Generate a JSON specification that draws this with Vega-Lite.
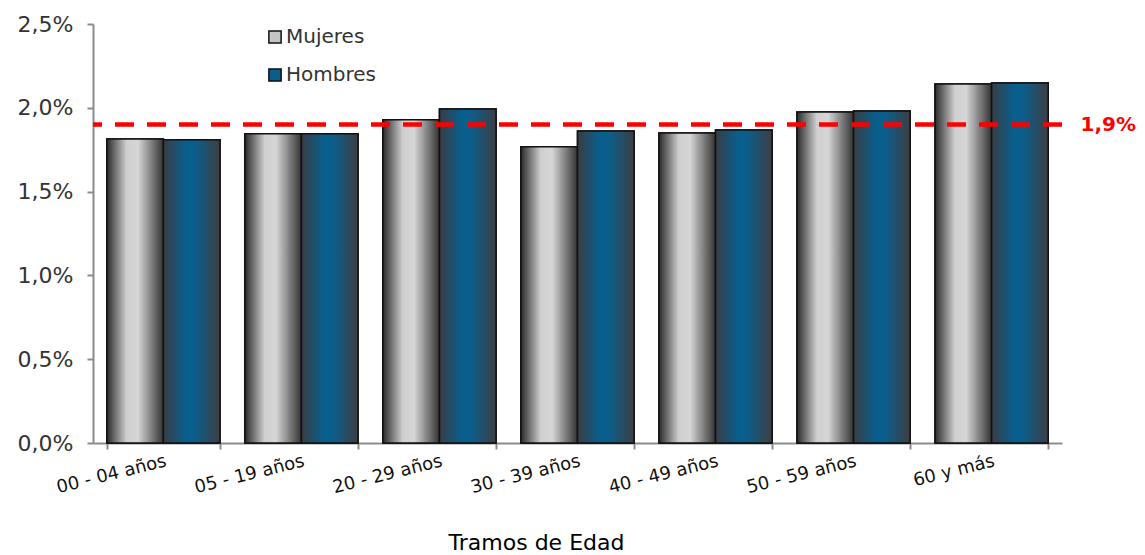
{
  "$schema": "https://vega.github.io/schema/vega-lite/v6.json",
  "autosize": "none",
  "width": 969,
  "height": 419,
  "padding": {"left": 93, "top": 24, "right": 83, "bottom": 112},
  "background": "white",
  "config": {
    "font": "DejaVu Sans",
    "view": {"stroke": null}
  },
  "datasets": {
    "tasas": [
      {"tramo": "00 - 04 años", "sexo": "Mujeres", "valor": 0.01814},
      {"tramo": "00 - 04 años", "sexo": "Hombres", "valor": 0.01810},
      {"tramo": "05 - 19 años", "sexo": "Mujeres", "valor": 0.01845},
      {"tramo": "05 - 19 años", "sexo": "Hombres", "valor": 0.01845},
      {"tramo": "20 - 29 años", "sexo": "Mujeres", "valor": 0.01928},
      {"tramo": "20 - 29 años", "sexo": "Hombres", "valor": 0.01993},
      {"tramo": "30 - 39 años", "sexo": "Mujeres", "valor": 0.01767},
      {"tramo": "30 - 39 años", "sexo": "Hombres", "valor": 0.01862},
      {"tramo": "40 - 49 años", "sexo": "Mujeres", "valor": 0.01850},
      {"tramo": "40 - 49 años", "sexo": "Hombres", "valor": 0.01868},
      {"tramo": "50 - 59 años", "sexo": "Mujeres", "valor": 0.01975},
      {"tramo": "50 - 59 años", "sexo": "Hombres", "valor": 0.01981},
      {"tramo": "60 y más", "sexo": "Mujeres", "valor": 0.02142},
      {"tramo": "60 y más", "sexo": "Hombres", "valor": 0.02148}
    ]
  },
  "layer": [
    {
      "data": {"name": "tasas"},
      "mark": {"type": "bar", "stroke": "#111111", "strokeWidth": 1.5},
      "encoding": {
        "x": {
          "field": "tramo",
          "type": "nominal",
          "sort": null,
          "scale": {"paddingInner": 0.18, "paddingOuter": 0.1},
          "axis": {
            "title": "Tramos de Edad",
            "titleFontSize": 22,
            "titleFontWeight": "normal",
            "titleColor": "#000000",
            "titleX": 443,
            "titleY": 106,
            "titleAlign": "center",
            "titleBaseline": "alphabetic",
            "labelAngle": -14,
            "labelAlign": "right",
            "labelBaseline": "top",
            "labelFontSize": 18,
            "labelColor": "#111111",
            "labelPadding": 3,
            "tickBand": "extent",
            "tickSize": 6,
            "tickColor": "#8c8c8c",
            "tickWidth": 2,
            "domainColor": "#8c8c8c",
            "domainWidth": 2
          }
        },
        "xOffset": {"field": "sexo", "type": "nominal", "sort": ["Mujeres", "Hombres"]},
        "y": {
          "field": "valor",
          "type": "quantitative",
          "scale": {"domain": [0, 0.025], "nice": false},
          "axis": {
            "title": null,
            "values": [0, 0.005, 0.01, 0.015, 0.02, 0.025],
            "labelExpr": "replace(format(datum.value, '.1%'), '.', ',')",
            "labelFontSize": 22,
            "labelColor": "#333333",
            "labelPadding": 14,
            "grid": false,
            "tickSize": 6,
            "tickColor": "#8c8c8c",
            "tickWidth": 2,
            "domainColor": "#8c8c8c",
            "domainWidth": 2
          }
        },
        "fill": {
          "field": "sexo",
          "type": "nominal",
          "scale": {
            "domain": ["Mujeres", "Hombres"],
            "range": ["#c4c4c4", "#0b5e8c"]
          },
          "legend": {
            "title": null,
            "orient": "none",
            "legendX": 172,
            "legendY": 3,
            "symbolType": "square",
            "symbolSize": 150,
            "symbolStrokeColor": "#111111",
            "symbolStrokeWidth": 1.5,
            "symbolOpacity": 1,
            "labelFontSize": 20,
            "labelColor": "#333333",
            "labelOffset": 1,
            "rowPadding": 18
          }
        }
      }
    },
    {
      "data": {"name": "tasas"},
      "mark": {"type": "bar", "stroke": "#111111", "strokeWidth": 1.5},
      "encoding": {
        "x": {"field": "tramo", "type": "nominal", "sort": null},
        "xOffset": {"field": "sexo", "type": "nominal", "sort": ["Mujeres", "Hombres"]},
        "y": {
          "field": "valor",
          "type": "quantitative",
          "scale": {"domain": [0, 0.025], "nice": false},
          "axis": null
        },
        "fill": {
          "condition": {
            "test": "datum.sexo === 'Mujeres'",
            "value": {"gradient": "linear", "x1": 0, "y1": 0, "x2": 1, "y2": 0,
              "stops": [
                {"offset": 0, "color": "#2a2a2a"},
                {"offset": 0.35, "color": "#cfcfcf"},
                {"offset": 0.55, "color": "#d6d6d6"},
                {"offset": 1, "color": "#333333"}
              ]}
          },
          "value": {"gradient": "linear", "x1": 0, "y1": 0, "x2": 1, "y2": 0,
            "stops": [
              {"offset": 0, "color": "#3a3d44"},
              {"offset": 0.4, "color": "#075f8e"},
              {"offset": 0.55, "color": "#0b5e8c"},
              {"offset": 1, "color": "#3c3e42"}
            ]}
        }
      }
    },
    {
      "data": {"values": [{"promedio": 0.019}]},
      "mark": {"type": "rule", "color": "#ff0000", "strokeWidth": 4.5, "strokeDash": [19, 13]},
      "encoding": {
        "y": {
          "field": "promedio",
          "type": "quantitative",
          "scale": {"domain": [0, 0.025], "nice": false},
          "axis": {
            "orient": "right",
            "title": null,
            "values": [0.019],
            "labelExpr": "replace(format(datum.value, '.1%'), '.', ',')",
            "labelFontSize": 20,
            "labelFontWeight": "bold",
            "labelColor": "#ff0000",
            "labelPadding": 18,
            "ticks": false,
            "domain": false,
            "grid": false
          }
        }
      }
    }
  ],
  "resolve": {"scale": {"y": "independent"}}
}
